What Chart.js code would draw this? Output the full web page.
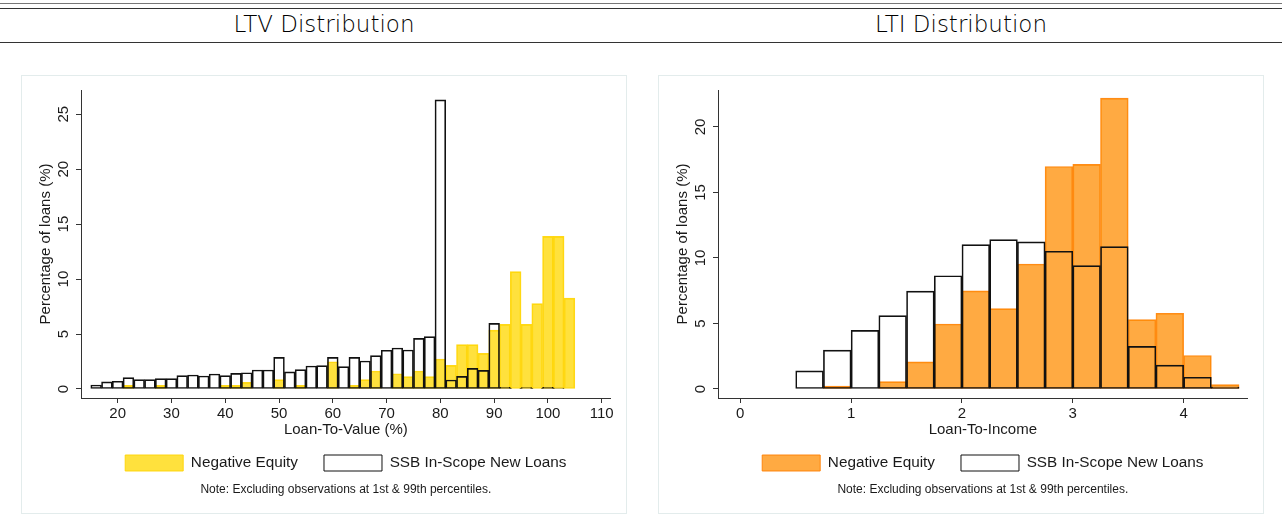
<!DOCTYPE html>
<html><head><meta charset="utf-8">
<script src="https://cdn.jsdelivr.net/npm/chart.js@4.4.1/dist/chart.umd.min.js"></script>
<style>
html,body{margin:0;padding:0;background:#fff;width:1282px;height:522px;overflow:hidden;position:relative}
.hl{position:absolute;left:0;width:1282px;height:1px;background:#333}
.ttl{position:absolute;top:10px;font-family:"DejaVu Sans",sans-serif;font-weight:200;font-size:23px;color:#000;text-align:center;line-height:28px}
.panel{position:absolute;top:75px;width:606px;height:439px;box-sizing:border-box;border:1px solid #e3ecec}
canvas{position:absolute;top:75px}
</style></head><body>
<div class="hl" style="top:3px;background:#777"></div>
<div class="hl" style="top:8px"></div>
<div class="hl" style="top:42px"></div>
<div class="ttl" style="left:21px;width:606px">LTV Distribution</div>
<div class="ttl" style="left:658px;width:606px">LTI Distribution</div>
<div class="panel" style="left:21px"></div>
<div class="panel" style="left:658px"></div>
<canvas id="c1" width="606" height="439" style="left:21px;width:606px;height:439px"></canvas>
<canvas id="c2" width="606" height="439" style="left:658px;width:606px;height:439px"></canvas>
<script>
// ---- LTV panel data (bin centres, bin width 2) ----
const LTV_BINS = [16,18,20,22,24,26,28,30,32,34,36,38,40,42,44,46,48,50,52,54,56,58,60,62,64,66,68,70,72,74,76,78,80,82,84,86,88,90,92,94,96,98,100,102,104];
const LTV_SSB = [0.36,0.64,0.70,1.03,0.85,0.85,0.94,0.94,1.21,1.27,1.18,1.36,1.21,1.42,1.48,1.73,1.73,2.88,1.55,1.76,2.09,2.12,2.88,2.03,2.88,2.55,3.03,3.52,3.73,3.55,4.60,4.76,26.3,0.82,1.15,1.88,1.70,5.97,0.15,0.06,0.12,0.03,0.15,0.09,0];
const LTV_NEG = [0,0,0,0.33,0,0,0.33,0,0,0,0,0,0.33,0.33,0.60,0,0,0.85,0,0.33,0,0,2.48,0,0.33,0.85,1.64,0,1.39,1.12,1.64,1.12,2.73,2.15,4.03,4.03,3.24,5.36,5.88,10.67,5.88,7.76,13.88,13.88,8.27];
const LTV_XTICKS = [20,30,40,50,60,70,80,90,100,110];
const LTV_YTICKS = [0,5,10,15,20,25];

// ---- LTI panel data (bin centres, bin width 0.25) ----
const LTI_BINS = [0.625,0.875,1.125,1.375,1.625,1.875,2.125,2.375,2.625,2.875,3.125,3.375,3.625,3.875,4.125,4.375];
const LTI_SSB = [1.38,2.97,4.48,5.60,7.47,8.64,11.02,11.40,11.23,10.51,9.41,10.87,3.25,1.82,0.90,0.15];
const LTI_NEG = [0,0.23,0,0.56,2.07,4.96,7.49,6.14,9.54,16.98,17.14,22.20,5.29,5.78,2.56,0.33];
const LTI_XTICKS = [0,1,2,3,4];
const LTI_YTICKS = [0,5,10,15,20];

const LABEL_NEG = 'Negative Equity';
const LABEL_SSB = 'SSB In-Scope New Loans';
const Y_TITLE = 'Percentage of loans (%)';
const NOTE = 'Note: Excluding observations at 1st & 99th percentiles.';

const FONT = '"Liberation Sans", Arial, Helvetica, sans-serif';
const AX = '#333';
const TXT = '#1a1a1a';

function panelChart(id, c) {
  const pts = arr => c.bins.map((x, i) => ({x: x, y: arr[i]}));
  const barCommon = {barPercentage: 1, categoryPercentage: 1, grouped: false, borderSkipped: false, borderWidth: 1};
  return new Chart(document.getElementById(id), {
    type: 'bar',
    data: {datasets: [
      Object.assign({label: LABEL_SSB, data: pts(c.ssb), backgroundColor: 'rgba(255,255,255,0)', borderColor: '#111'}, barCommon),
      Object.assign({label: LABEL_NEG, data: pts(c.neg), backgroundColor: c.fill, borderColor: c.edge}, barCommon)
    ]},
    options: {
      responsive: false, animation: false, devicePixelRatio: 1,
      layout: {padding: {top: 15, right: 16.3, left: 0, bottom: 0}},
      scales: {
        x: {
          type: 'linear', min: c.xmin, max: c.xmax, offset: false,
          afterBuildTicks: s => { s.ticks = c.xticks.map(v => ({value: v})); },
          afterFit: s => { s.height = 31; },
          grid: {display: true, drawOnChartArea: false, drawTicks: true, tickLength: 5, color: AX, offset: false},
          border: {display: true, color: AX, width: 1},
          ticks: {font: {family: FONT, size: 15}, color: TXT, padding: 2, maxRotation: 0, autoSkip: false, callback: v => String(v)},
          title: {display: true, text: c.xtitle, font: {family: FONT, size: 15}, color: TXT, padding: {top: 0, bottom: -10.3}}
        },
        y: {
          type: 'linear', min: c.ymin, max: c.ymax,
          afterBuildTicks: s => { s.ticks = c.yticks.map(v => ({value: v})); },
          afterFit: s => { s.width = 60; },
          grid: {display: true, drawOnChartArea: false, drawTicks: true, tickLength: 5, color: AX},
          border: {display: true, color: AX, width: 1},
          ticks: {font: {family: FONT, size: 15}, color: TXT, padding: 4, minRotation: 90, maxRotation: 90, crossAlign: 'center', autoSkip: false, callback: v => String(v)},
          title: {display: true, text: Y_TITLE, font: {family: FONT, size: 15}, color: TXT, padding: {top: 16, bottom: 0}}
        }
      },
      plugins: {
        legend: {position: 'bottom', fullSize: false, reverse: true,
          labels: {boxWidth: 58, boxHeight: 16, padding: 26, font: {family: FONT, size: 15.3}, color: TXT}},
        subtitle: {display: true, position: 'bottom', fullSize: false, text: NOTE,
          font: {family: FONT, size: 12}, color: TXT, padding: {top: 1, bottom: 17.6}},
        tooltip: {enabled: false}
      }
    }
  });
}

panelChart('c1', {bins: LTV_BINS, ssb: LTV_SSB, neg: LTV_NEG, xticks: LTV_XTICKS, yticks: LTV_YTICKS,
  xmin: 13.18, xmax: 111.67, ymin: -0.82, ymax: 27.2, xtitle: 'Loan-To-Value (%)',
  fill: 'rgba(255,215,0,0.76)', edge: 'rgba(255,212,0,0.9)'});
panelChart('c2', {bins: LTI_BINS, ssb: LTI_SSB, neg: LTI_NEG, xticks: LTI_XTICKS, yticks: LTI_YTICKS,
  xmin: -0.201, xmax: 4.578, ymin: -0.687, ymax: 22.82, xtitle: 'Loan-To-Income',
  fill: 'rgba(255,140,0,0.74)', edge: 'rgba(255,128,0,0.9)'});
</script>
</body></html>
